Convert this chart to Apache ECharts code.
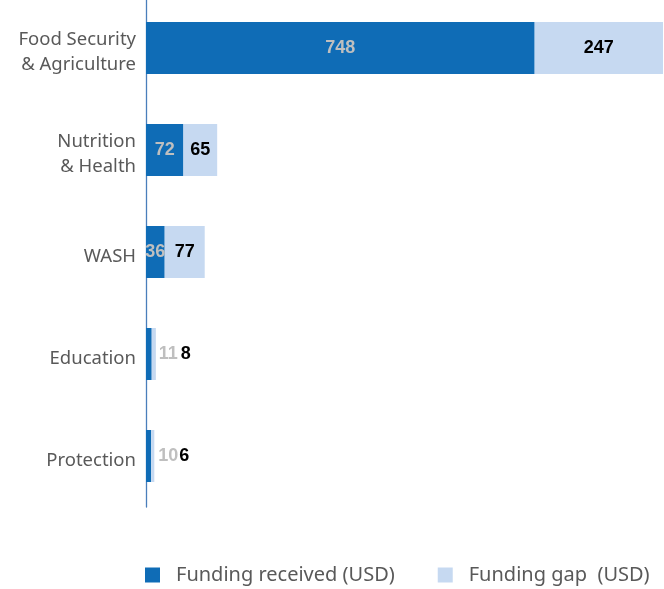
<!DOCTYPE html>
<html>
<head>
<meta charset="utf-8">
<script src="https://cdn.jsdelivr.net/npm/echarts@6/dist/echarts.min.js"></script>
<style>html,body{margin:0;padding:0;background:#fff;}#c{width:664px;height:589px;}</style>
</head>
<body>
<div id="c"></div>
<script>
const categories = ["Food Security\n& Agriculture", "Nutrition\n& Health", "WASH", "Education", "Protection"];
const fundingReceived = [748, 72, 36, 11, 10];
const fundingGap = [247, 65, 77, 8, 6];
const seriesNames = ["Funding received (USD)", "Funding gap  (USD)"];

const DARK = '#0f6cb6', LIGHT = '#c6d9f1';
const chart = echarts.init(document.getElementById('c'));

function recvData() {
  return fundingReceived.map((v, i) => {
    const small = v + fundingGap[i] < 30;
    return {
      value: v,
      label: small ? { position: 'right', distance: 7 } : { position: 'inside' }
    };
  });
}
function gapData() {
  return fundingGap.map((v, i) => {
    const small = fundingReceived[i] + v < 30;
    return {
      value: v,
      label: small ? { position: 'right', distance: 25 } : { position: 'inside' }
    };
  });
}

chart.setOption({
  animation: false,
  grid: { left: 146, right: 1, top: -3, height: 510, containLabel: false, outerBoundsMode: 'none' },
  xAxis: {
    type: 'value', min: 0, max: 995, show: false,
    splitLine: { show: false }
  },
  yAxis: {
    type: 'category', data: categories, inverse: true,
    axisLine: { show: true, lineStyle: { color: '#4a7ebb', width: 1.3 } },
    axisTick: { show: false },
    axisLabel: {
      color: '#595959', fontFamily: 'Noto Sans', fontSize: 18.5, lineHeight: 25,
      margin: 10, align: 'right',
      formatter: v => '{s| }\n' + v.split('\n').map(l => '{a|' + l + '}').join('\n'),
      rich: {
        s: { fontSize: 4, lineHeight: 9 },
        a: { color: '#595959', fontFamily: 'Noto Sans', fontSize: 18.5, lineHeight: 25, align: 'right' }
      }
    }
  },
  legend: {
    left: 140, top: 560, itemWidth: 15, itemHeight: 15, itemGap: 43, icon: 'rect',
    textStyle: { color: '#595959', fontFamily: 'Noto Sans', fontSize: 20, padding: [0, 0, 0, 11] },
    data: seriesNames
  },
  series: [
    {
      name: seriesNames[0], type: 'bar', stack: 'a', barWidth: 52,
      itemStyle: { color: DARK },
      label: { show: true, color: '#bfbfbf', fontFamily: 'Liberation Sans', fontWeight: 'bold', fontSize: 18, formatter: '{c}' },
      data: recvData()
    },
    {
      name: seriesNames[1], type: 'bar', stack: 'a', barWidth: 52,
      itemStyle: { color: LIGHT },
      label: { show: true, color: '#000', fontFamily: 'Liberation Sans', fontWeight: 'bold', fontSize: 18, formatter: '{c}' },
      data: gapData()
    }
  ]
});
</script>
</body>
</html>
